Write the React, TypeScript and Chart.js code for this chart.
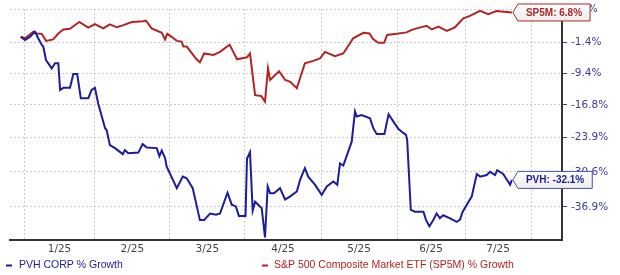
import React, { useEffect, useRef } from 'react';
import { Chart, registerables } from 'chart.js';

Chart.register(...registerables);

// x axis in trading-day units
const monthStarts = [4.7, 28.3, 53.3, 78.3, 103.7, 129.0, 151.7, 173.7];
const monthLabels = ['1/25', '2/25', '3/25', '4/25', '5/25', '6/25', '7/25'];

// y axis ticks (% growth, log-scaled on 100 + growth)
const yTickValues = [7.8, -1.4, -9.4, -16.8, -23.9, -30.6, -36.9];
const yMinGrowth = -42.29;
const yMaxGrowth = 7.81;

const pvhDays = [
  3.6, 5.0, 6.7, 8.3, 9.4, 10.6, 11.1, 12.0, 13.9, 15.0,
  16.1, 16.7, 17.8, 20.0, 21.1, 22.4, 23.6, 26.1, 27.2, 28.3,
  29.4, 31.7, 32.2, 33.3, 35.0, 37.6, 38.3, 39.4, 42.8, 44.2,
  45.6, 48.9, 49.8, 50.6, 51.7, 52.2, 55.6, 57.6, 58.9, 60.9,
  63.3, 64.7, 66.7, 68.7, 70.0, 72.5, 73.9, 75.3, 76.3, 78.5,
  79.0, 80.0, 80.9, 81.7, 83.9, 85.0, 85.9, 86.7, 88.0, 90.0,
  91.7, 93.3, 95.6, 96.7, 98.3, 99.4, 101.7, 103.9, 105.6, 107.8,
  109.1, 110.0, 111.1, 113.9, 115.0, 115.6, 117.2, 120.0, 121.1, 122.2,
  124.8, 126.2, 127.8, 129.5, 131.1, 132.0, 132.4, 133.6, 135.0, 137.8,
  138.7, 139.8, 141.1, 142.2, 143.3, 144.4, 146.7, 148.9, 150.0, 150.9,
  153.9, 155.6, 156.7, 158.9, 160.0, 161.7, 162.4, 164.4, 166.7, 167.3,
];
const pvhGrowth = [
  0.0, -0.9, 0.0, 1.4, -0.4, -2.2, -2.6, -6.1, -8.2, -6.9,
  -6.9, -13.4, -12.9, -12.9, -9.6, -9.6, -15.3, -15.3, -13.4, -12.9,
  -16.5, -21.9, -22.3, -25.4, -26.0, -27.2, -26.4, -27.0, -26.9, -25.2,
  -25.9, -26.0, -27.6, -26.5, -28.0, -29.6, -33.6, -31.5, -31.8, -33.6,
  -39.1, -39.1, -38.0, -38.2, -38.0, -34.4, -36.5, -36.8, -38.4, -38.4,
  -28.1, -26.8, -37.5, -36.0, -37.1, -41.9, -33.3, -34.5, -34.5, -33.6,
  -35.6, -35.1, -34.2, -32.1, -29.9, -31.5, -33.0, -34.8, -33.3, -32.4,
  -33.0, -29.0, -29.4, -24.7, -18.3, -19.4, -19.1, -19.8, -21.9, -23.1,
  -23.1, -18.9, -20.5, -22.1, -22.9, -23.3, -24.4, -37.4, -37.7, -37.7,
  -39.1, -40.1, -39.1, -38.0, -38.8, -38.3, -38.8, -39.4, -39.0, -37.7,
  -35.1, -31.0, -31.5, -31.2, -30.6, -31.2, -30.3, -31.0, -33.0, -32.1,
];

const spDays = [
  3.6, 5.0, 7.8, 8.9, 10.6, 12.0, 14.4, 16.1, 17.8, 20.0,
  23.1, 26.1, 28.3, 31.1, 33.3, 35.6, 37.8, 40.6, 44.4, 45.3,
  47.2, 50.6, 51.7, 52.4, 53.9, 55.6, 57.2, 57.8, 58.9, 62.2,
  63.3, 64.7, 67.8, 70.0, 73.2, 75.7, 79.0, 80.0, 81.7, 83.7,
  85.0, 86.0, 86.7, 89.7, 91.7, 93.3, 95.6, 98.3, 101.1, 103.3,
  105.0, 108.3, 111.1, 114.4, 117.8, 119.8, 121.1, 122.8, 124.7, 125.7,
  128.9, 132.2, 133.9, 135.6, 138.9, 140.6, 142.8, 145.6, 148.3, 151.1,
  153.3, 156.7, 159.4, 162.2, 167.3,
];
const spGrowth = [
  0.0, -0.4, 1.4, 0.9, 0.8, -1.1, -0.7, 0.9, 2.0, 2.2,
  4.1, 2.5, 3.5, 2.3, 3.4, 2.6, 3.2, 4.1, 4.3, 4.5,
  2.3, 1.1, -0.7, 0.8, 0.0, -1.1, -1.3, -2.6, -2.6, -5.9,
  -6.7, -4.4, -4.8, -4.0, -2.1, -5.9, -5.4, -4.4, -14.6, -14.8,
  -16.1, -8.2, -11.0, -8.9, -11.0, -11.4, -13.0, -6.9, -6.3, -5.7,
  -4.0, -5.1, -4.4, -0.4, 1.1, 0.9, -0.7, -1.6, -1.6, 0.5,
  0.8, 1.2, 1.9, 2.3, 3.0, 2.0, 2.8, 1.6, 2.6, 5.1,
  5.8, 7.3, 6.3, 7.2, 6.8,
];

const BLUE = '#1c1c9c';
const RED = '#b22424';
const GRID = '#cccccc';

const labelPositions = monthLabels.map((_, i) => (monthStarts[i] + monthStarts[i + 1]) / 2);
const near = (a: number, b: number) => Math.abs(a - b) < 0.01;

function drawTag(ctx: CanvasRenderingContext2D, x: number, y: number, text: string, border: string, color: string) {
  ctx.save();
  ctx.font = 'bold 10px "Liberation Sans", Arial, sans-serif';
  const w = ctx.measureText(text).width;
  const tip = x + 1;
  const base = tip + 5;
  const h = 17;
  const top = y - h / 2;
  const right = base + w + 16;
  ctx.beginPath();
  ctx.moveTo(tip, y);
  ctx.lineTo(base, top);
  ctx.lineTo(right, top);
  ctx.lineTo(right, top + h);
  ctx.lineTo(base, top + h);
  ctx.closePath();
  const g = ctx.createLinearGradient(0, top, 0, top + h);
  g.addColorStop(0, '#ffffff');
  g.addColorStop(1, '#ececec');
  ctx.fillStyle = g;
  ctx.fill();
  ctx.lineWidth = 1;
  ctx.strokeStyle = border;
  ctx.stroke();
  ctx.fillStyle = color;
  ctx.textBaseline = 'middle';
  ctx.textAlign = 'left';
  ctx.fillText(text, base + 8, y + 0.5);
  ctx.restore();
}

const overlayPlugin = {
  id: 'overlay',
  afterDraw(chart: any) {
    const ctx: CanvasRenderingContext2D = chart.ctx;
    ctx.save();
    ctx.font = '10.5px "Liberation Sans", Arial, sans-serif';
    ctx.textBaseline = 'middle';
    ctx.textAlign = 'left';
    ctx.fillStyle = BLUE;
    ctx.fillRect(6, 264.5, 6, 2);
    ctx.fillText('PVH CORP % Growth', 19, 265.5);
    ctx.fillStyle = RED;
    ctx.fillRect(262, 264.5, 6, 2);
    ctx.fillText('S&P 500 Composite Market ETF (SP5M) % Growth', 274, 265.5);
    ctx.restore();

    const spMeta = chart.getDatasetMeta(1);
    const spLast = spMeta.data[spMeta.data.length - 1];
    drawTag(ctx, spLast.x, spLast.y, `SP5M: ${spGrowth[spGrowth.length - 1].toFixed(1)}%`, RED, RED);
    const pvMeta = chart.getDatasetMeta(0);
    const pvLast = pvMeta.data[pvMeta.data.length - 1];
    drawTag(ctx, pvLast.x, pvLast.y, `PVH: ${pvhGrowth[pvhGrowth.length - 1].toFixed(1)}%`, '#4c4cb4', BLUE);
  },
};

export default function App() {
  const ref = useRef<HTMLCanvasElement>(null);
  useEffect(() => {
    document.body.style.margin = '0';
    if (!ref.current) return;
    const chart = new Chart(ref.current, {
      type: 'line',
      data: {
        datasets: [
          {
            label: 'PVH CORP % Growth',
            data: pvhDays.map((d, i) => ({ x: d, y: 100 + pvhGrowth[i] })),
            borderColor: BLUE,
            borderWidth: 2,
            pointRadius: 0,
            tension: 0,
            fill: false,
          },
          {
            label: 'S&P 500 Composite Market ETF (SP5M) % Growth',
            data: spDays.map((d, i) => ({ x: d, y: 100 + spGrowth[i] })),
            borderColor: RED,
            borderWidth: 2,
            pointRadius: 0,
            tension: 0,
            fill: false,
          },
        ],
      },
      options: {
        animation: false,
        responsive: false,
        events: [],
        layout: { padding: { left: 10, top: 9, right: 0, bottom: 15 } },
        plugins: { legend: { display: false }, tooltip: { enabled: false } },
        scales: {
          x: {
            type: 'linear',
            min: 0,
            max: 184,
            afterBuildTicks: (s: any) => {
              s.ticks = [...monthStarts, ...labelPositions]
                .sort((a, b) => a - b)
                .map((v) => ({ value: v }));
            },
            afterFit: (s: any) => {
              s.height = 20;
              s.paddingLeft = 0;
              s.paddingRight = 0;
            },
            ticks: {
              autoSkip: false,
              maxRotation: 0,
              minRotation: 0,
              padding: 3,
              color: '#444444',
              font: { family: '"DejaVu Sans", Verdana, sans-serif', size: 10.5 },
              callback: (v: any) => {
                const i = labelPositions.findIndex((p) => near(p, Number(v)));
                return i >= 0 ? monthLabels[i] : '';
              },
            },
            grid: {
              color: (c: any) =>
                c.tick && monthStarts.some((m) => near(m, c.tick.value)) ? GRID : 'rgba(0,0,0,0)',
              lineWidth: 1,
              drawTicks: false,
            },
            border: { display: true, color: '#333333', width: 2, dash: [2, 2] },
          },
          y: {
            type: 'logarithmic',
            position: 'right',
            min: 100 + yMinGrowth,
            max: 100 + yMaxGrowth,
            afterBuildTicks: (s: any) => {
              s.ticks = yTickValues.map((v) => ({ value: 100 + v }));
            },
            afterFit: (s: any) => {
              s.width = 58;
              s.paddingTop = 0;
              s.paddingBottom = 0;
            },
            ticks: {
              autoSkip: false,
              padding: 4,
              color: '#3a3a9a',
              font: { family: '"DejaVu Sans", Verdana, sans-serif', size: 10.5 },
              callback: (v: any) => (Number(v) - 100).toFixed(1) + '%',
            },
            grid: {
              color: GRID,
              lineWidth: 1,
              drawTicks: true,
              tickLength: 5,
              tickColor: '#3a3a9a',
              tickWidth: 1,
            },
            border: { display: true, color: '#333333', width: 2, dash: [2, 2] },
          },
        },
      },
      plugins: [overlayPlugin],
    });
    return () => chart.destroy();
  }, []);
  return (
    <div style={{ position: 'absolute', left: 0, top: 0, width: 620, height: 275, background: '#fff' }}>
      <canvas ref={ref} width={620} height={275} />
    </div>
  );
}
